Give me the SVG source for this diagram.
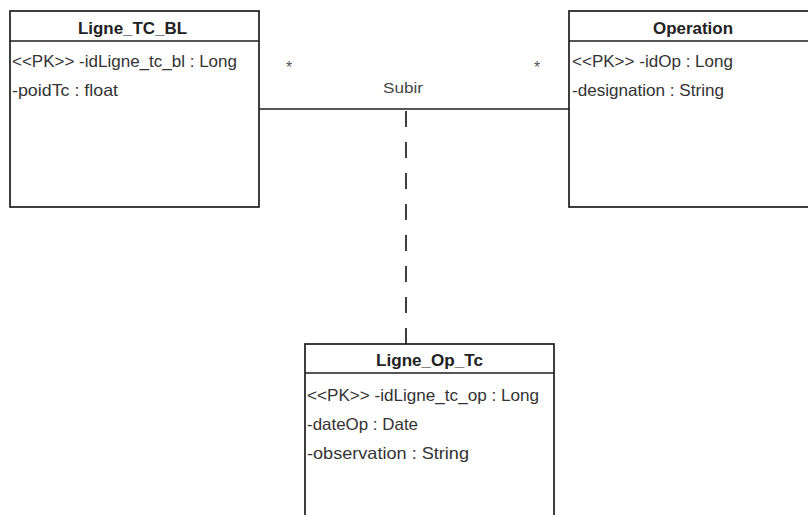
<svg xmlns="http://www.w3.org/2000/svg" width="808" height="515" viewBox="0 0 808 515">
  <style>
    .box { fill: #ffffff; stroke: #1e1e1e; stroke-width: 1.7; }
    .sep { stroke: #1e1e1e; stroke-width: 1.7; }
    .title { font-family: "Liberation Sans", Arial, sans-serif; font-size: 17px; font-weight: bold; fill: #222; }
    .attr { font-family: "Liberation Sans", Arial, sans-serif; font-size: 16.5px; fill: #333; }
    .lbl { font-family: "Liberation Sans", Arial, sans-serif; font-size: 15px; fill: #444; }
    .star { font-family: "Liberation Sans", Arial, sans-serif; font-size: 16px; fill: #555; text-anchor: middle; }
    .assoc { stroke: #1e1e1e; stroke-width: 1.7; fill: none; }
    .dash { stroke: #1e1e1e; stroke-width: 1.7; fill: none; stroke-dasharray: 16 15; }
  </style>
  <rect width="808" height="515" fill="#ffffff"/>

  <g id="connectors">
    <line class="assoc" x1="259" y1="109" x2="569" y2="109"/>
    <line class="dash" x1="406" y1="344" x2="406" y2="109"/>
    <text class="star" x="289" y="73">*</text>
    <text class="star" x="537" y="73">*</text>
    <text class="lbl" x="383" y="93" textLength="40" lengthAdjust="spacingAndGlyphs">Subir</text>
  </g>

  <g id="Ligne_TC_BL">
    <rect class="box" x="10" y="11" width="249" height="196"/>
    <line class="sep" x1="10" y1="41" x2="259" y2="41"/>
    <text class="title" x="78" y="34" textLength="109" lengthAdjust="spacingAndGlyphs">Ligne_TC_BL</text>
    <text class="attr" x="12" y="67" textLength="225" lengthAdjust="spacingAndGlyphs">&lt;&lt;PK&gt;&gt; -idLigne_tc_bl : Long</text>
    <text class="attr" x="12" y="96" textLength="106" lengthAdjust="spacingAndGlyphs">-poidTc : float</text>
  </g>

  <g id="Operation">
    <rect class="box" x="569" y="11" width="250" height="196"/>
    <line class="sep" x1="569" y1="41" x2="819" y2="41"/>
    <text class="title" x="653" y="34" textLength="80" lengthAdjust="spacingAndGlyphs">Operation</text>
    <text class="attr" x="572" y="67" textLength="161" lengthAdjust="spacingAndGlyphs">&lt;&lt;PK&gt;&gt; -idOp : Long</text>
    <text class="attr" x="572" y="96" textLength="152" lengthAdjust="spacingAndGlyphs">-designation : String</text>
  </g>

  <g id="Ligne_Op_Tc">
    <rect class="box" x="305" y="344" width="249" height="190"/>
    <line class="sep" x1="305" y1="373" x2="554" y2="373"/>
    <text class="title" x="376" y="366" textLength="107" lengthAdjust="spacingAndGlyphs">Ligne_Op_Tc</text>
    <text class="attr" x="307" y="401" textLength="232" lengthAdjust="spacingAndGlyphs">&lt;&lt;PK&gt;&gt; -idLigne_tc_op : Long</text>
    <text class="attr" x="307" y="430" textLength="111" lengthAdjust="spacingAndGlyphs">-dateOp : Date</text>
    <text class="attr" x="307" y="459" textLength="162" lengthAdjust="spacingAndGlyphs">-observation : String</text>
  </g>
</svg>
